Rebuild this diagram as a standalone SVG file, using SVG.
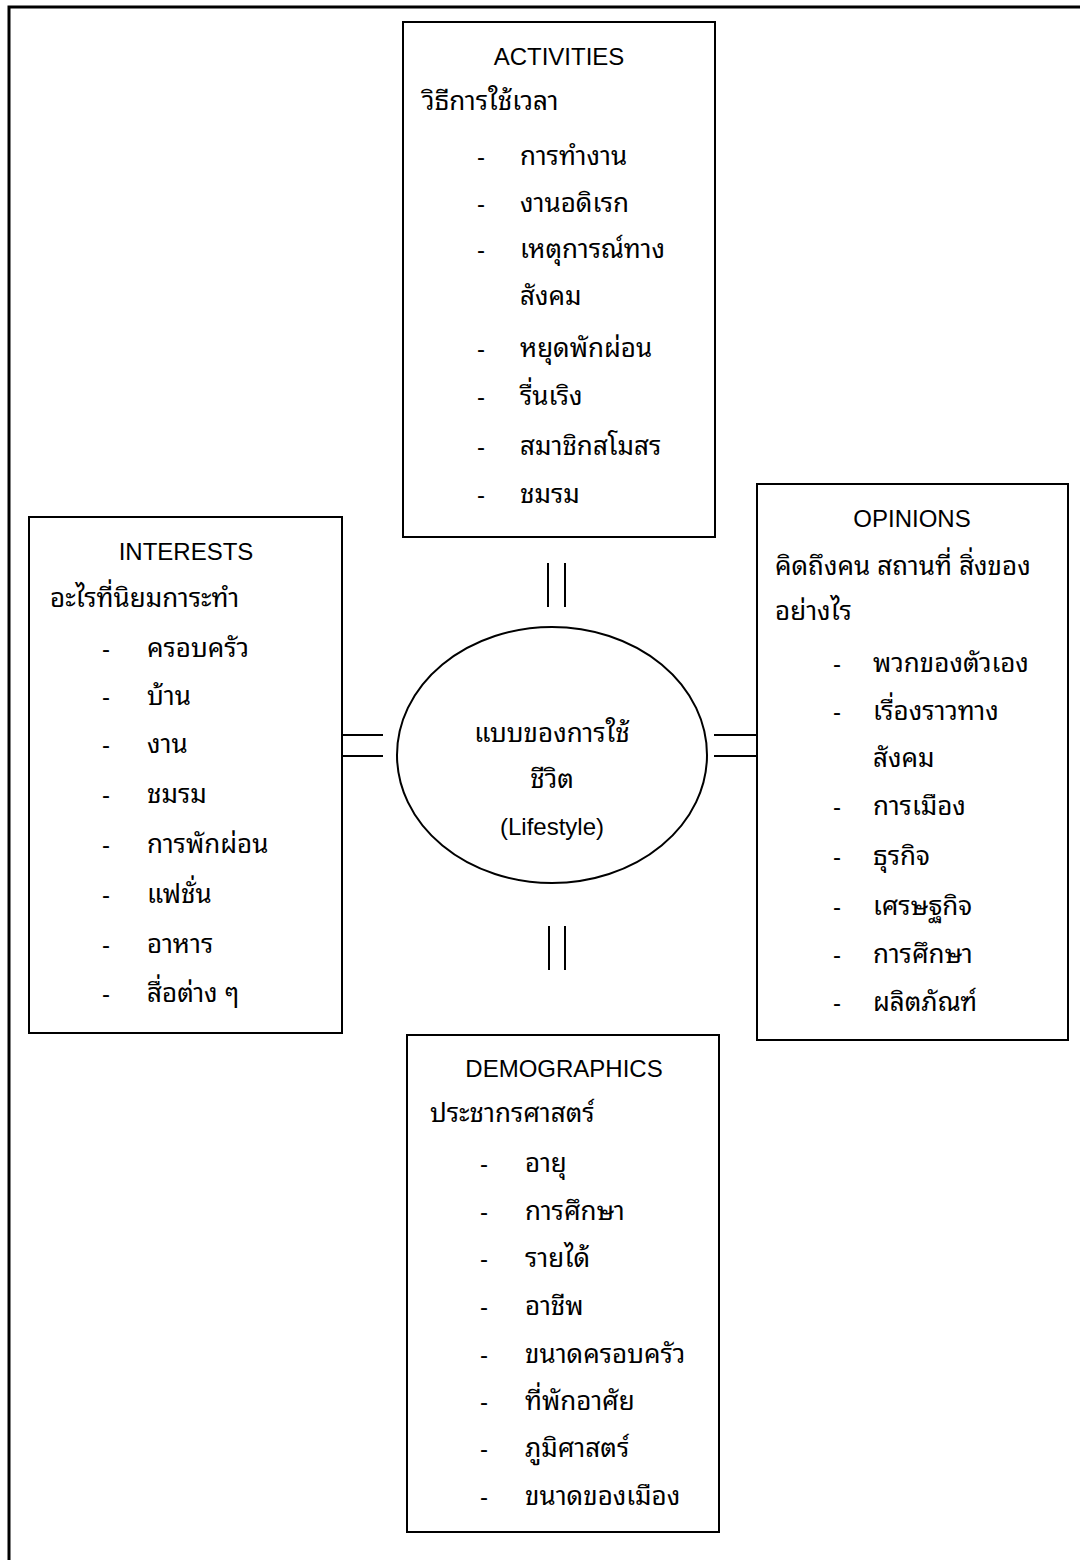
<svg xmlns="http://www.w3.org/2000/svg" width="1080" height="1560" viewBox="0 0 1080 1560">
<style>
  text { font-family: "Liberation Sans", "Noto Sans Thai Looped", "Loma", "Garuda", "Kinnari", "Norasi", "Noto Sans Thai", "Noto Sans", sans-serif; font-size: 24px; fill: #000; }
  .t { font-size: 26px; }
  .c { text-anchor: middle; }
  .box { fill: #fff; stroke: #000; stroke-width: 2; }
  .ln { stroke: #000; stroke-width: 2; fill: none; }
</style>
<rect width="1080" height="1560" fill="#fff"/>
<path d="M9,1560 V7 H1080" fill="none" stroke="#000" stroke-width="3"/>

<g id="connectors">
  <line class="ln" x1="342" y1="735" x2="383" y2="735"/>
  <line class="ln" x1="342" y1="756" x2="383" y2="756"/>
  <line class="ln" x1="714" y1="735" x2="757" y2="735"/>
  <line class="ln" x1="714" y1="756" x2="757" y2="756"/>
  <line class="ln" x1="548" y1="563" x2="548" y2="607"/>
  <line class="ln" x1="565" y1="563" x2="565" y2="607"/>
  <line class="ln" x1="549" y1="926" x2="549" y2="970"/>
  <line class="ln" x1="565" y1="926" x2="565" y2="970"/>
</g>

<g id="activities">
  <rect class="box" x="403" y="22" width="312" height="515"/>
  <text class="c" x="559" y="65">ACTIVITIES</text>
  <text class="t" x="422" y="110">วิธีการใช้เวลา</text>
  <text x="477" y="165">-</text><text class="t" x="520" y="165">การทำงาน</text>
  <text x="477" y="212">-</text><text class="t" x="520" y="212">งานอดิเรก</text>
  <text x="477" y="258">-</text><text class="t" x="520" y="258">เหตุการณ์ทาง</text>
  <text class="t" x="520" y="305">สังคม</text>
  <text x="477" y="357">-</text><text class="t" x="520" y="357">หยุดพักผ่อน</text>
  <text x="477" y="405">-</text><text class="t" x="520" y="405">รื่นเริง</text>
  <text x="477" y="455">-</text><text class="t" x="520" y="455">สมาชิกสโมสร</text>
  <text x="477" y="503">-</text><text class="t" x="520" y="503">ชมรม</text>
</g>

<g id="interests">
  <rect class="box" x="29" y="517" width="313" height="516"/>
  <text class="c" x="186" y="560">INTERESTS</text>
  <text class="t" x="50" y="607">อะไรที่นิยมการะทำ</text>
  <text x="102" y="657">-</text><text class="t" x="147" y="657">ครอบครัว</text>
  <text x="102" y="705">-</text><text class="t" x="147" y="705">บ้าน</text>
  <text x="102" y="753">-</text><text class="t" x="147" y="753">งาน</text>
  <text x="102" y="803">-</text><text class="t" x="147" y="803">ชมรม</text>
  <text x="102" y="853">-</text><text class="t" x="147" y="853">การพักผ่อน</text>
  <text x="102" y="903">-</text><text class="t" x="147" y="903">แฟชั่น</text>
  <text x="102" y="953">-</text><text class="t" x="147" y="953">อาหาร</text>
  <text x="102" y="1002">-</text><text class="t" x="147" y="1002">สื่อต่าง ๆ</text>
</g>

<g id="lifestyle">
  <ellipse class="box" cx="552" cy="755" rx="155" ry="128"/>
  <text class="c t" x="552" y="742">แบบของการใช้</text>
  <text class="c t" x="552" y="788">ชีวิต</text>
  <text class="c" x="552" y="835">(Lifestyle)</text>
</g>

<g id="opinions">
  <rect class="box" x="757" y="484" width="311" height="556"/>
  <text class="c" x="912" y="527">OPINIONS</text>
  <text class="t" x="775" y="575">คิดถึงคน สถานที่ สิ่งของ</text>
  <text class="t" x="775" y="620">อย่างไร</text>
  <text x="833" y="672">-</text><text class="t" x="873" y="672">พวกของตัวเอง</text>
  <text x="833" y="720">-</text><text class="t" x="873" y="720">เรื่องราวทาง</text>
  <text class="t" x="873" y="767">สังคม</text>
  <text x="833" y="815">-</text><text class="t" x="873" y="815">การเมือง</text>
  <text x="833" y="865">-</text><text class="t" x="873" y="865">ธุรกิจ</text>
  <text x="833" y="915">-</text><text class="t" x="873" y="915">เศรษฐกิจ</text>
  <text x="833" y="963">-</text><text class="t" x="873" y="963">การศึกษา</text>
  <text x="833" y="1011">-</text><text class="t" x="873" y="1011">ผลิตภัณฑ์</text>
</g>

<g id="demographics">
  <rect class="box" x="407" y="1035" width="312" height="497"/>
  <text class="c" x="564" y="1077">DEMOGRAPHICS</text>
  <text class="t" x="430" y="1122">ประชากรศาสตร์</text>
  <text x="480" y="1172">-</text><text class="t" x="525" y="1172">อายุ</text>
  <text x="480" y="1220">-</text><text class="t" x="525" y="1220">การศึกษา</text>
  <text x="480" y="1267">-</text><text class="t" x="525" y="1267">รายได้</text>
  <text x="480" y="1315">-</text><text class="t" x="525" y="1315">อาชีพ</text>
  <text x="480" y="1363">-</text><text class="t" x="525" y="1363">ขนาดครอบครัว</text>
  <text x="480" y="1410">-</text><text class="t" x="525" y="1410">ที่พักอาศัย</text>
  <text x="480" y="1457">-</text><text class="t" x="525" y="1457">ภูมิศาสตร์</text>
  <text x="480" y="1505">-</text><text class="t" x="525" y="1505">ขนาดของเมือง</text>
</g>
</svg>
